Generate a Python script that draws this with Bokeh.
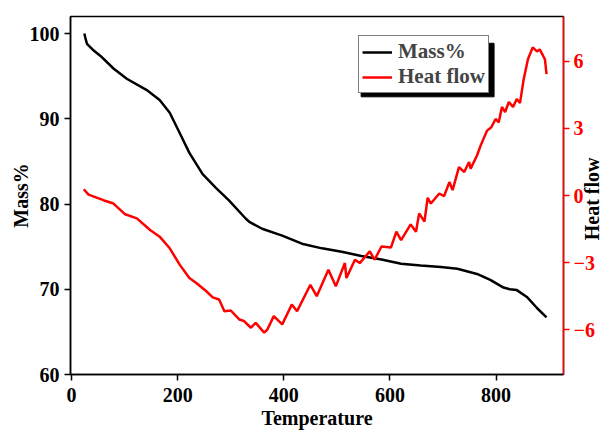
import math
from bokeh.plotting import figure
from bokeh.models import Range1d, LinearAxis, Legend, LegendItem, FixedTicker
from bokeh.embed import file_html
from bokeh.resources import INLINE

# ---- data ----
temp_mass = [24, 26, 29, 40, 54, 79, 104, 141, 166, 185, 204, 222, 247, 272, 297,
             328, 335, 359, 397, 434, 472, 509, 546, 584, 621, 658, 696, 727, 764,
             789, 814, 826, 839, 858, 877, 895]
mass = [100.0, 99.5, 98.8, 98.1, 97.4, 95.9, 94.7, 93.4, 92.2, 90.7, 88.3, 86.0,
        83.5, 81.9, 80.4, 78.3, 77.9, 77.1, 76.3, 75.35, 74.8, 74.4, 73.9, 73.5,
        73.0, 72.8, 72.6, 72.4, 71.8, 71.1, 70.2, 70.0, 69.9, 69.1, 67.8, 66.7]

temp_hf = [23, 32, 60, 79, 101, 123, 148, 166, 185, 204, 222, 235, 254, 266, 278,
           288, 300, 316, 325, 338, 347, 363, 369, 381, 397, 415, 425, 450, 462,
           484, 498, 515, 518, 534, 543, 562, 571, 584, 602, 612, 621, 639, 649,
           655, 665, 671, 677, 693, 702, 712, 718, 730, 740, 749, 752, 764, 771,
           783, 791, 799, 805, 811, 817, 824, 832, 839, 845, 852, 860, 869, 877,
           882, 888, 892, 895]
heat_flow = [0.28, 0.04, -0.21, -0.36, -0.84, -1.02, -1.54, -1.84, -2.36, -3.10,
             -3.69, -3.91, -4.28, -4.55, -4.65, -5.17, -5.14, -5.54, -5.61, -5.91,
             -5.69, -6.13, -5.99, -5.39, -5.76, -4.87, -5.17, -3.99, -4.50, -3.32,
             -4.06, -3.02, -3.69, -2.87, -3.02, -2.50, -2.87, -2.28, -2.32, -1.62,
             -1.99, -1.29, -1.62, -0.80, -1.17, -0.10, -0.36, 0.09, -0.03, 0.60,
             0.24, 1.27, 1.05, 1.50, 1.20, 1.79, 2.24, 2.90, 3.05, 3.42, 3.27,
             3.96, 3.73, 4.18, 3.96, 4.31, 4.13, 5.20, 6.09, 6.62, 6.44, 6.53,
             6.27, 6.09, 5.42]

x_ticks = [0, 200, 400, 600, 800]
mass_ticks = [60, 70, 80, 90, 100]
hf_ticks = [-6, -3, 0, 3, 6]

FONT = "Liberation Serif"

X0, X1 = -2, 927
Y0, Y1 = 60, 102

p = figure(width=616, height=431, output_backend="svg", toolbar_location=None,
           x_range=Range1d(X0, X1), y_range=Range1d(Y0, Y1),
           min_border_left=70, min_border_right=49, min_border_top=16,
           min_border_bottom=54)
p.extra_y_ranges = {"hf": Range1d(-8, 8)}

p.grid.visible = False
p.outline_line_color = "black"
p.outline_line_width = 1.5
p.background_fill_color = "white"
p.border_fill_color = "white"

def style_axis(ax, color):
    ax.axis_line_color = color
    ax.axis_line_width = 1.5
    ax.major_tick_line_color = color
    ax.major_tick_line_width = 1.5
    ax.major_tick_out = 6
    ax.major_tick_in = 0
    ax.minor_tick_line_color = None
    ax.major_label_text_color = color
    ax.major_label_text_font = FONT
    ax.major_label_text_font_style = "bold"
    ax.major_label_text_font_size = "20px"
    ax.axis_label_text_font = FONT
    ax.axis_label_text_font_style = "bold"
    ax.axis_label_text_font_size = "20px"
    ax.axis_label_text_color = "black"

xa = p.xaxis[0]
xa.ticker = FixedTicker(ticks=x_ticks)
xa.axis_label = "Temperature"
style_axis(xa, "black")
xa.major_label_standoff = 7
xa.axis_label_standoff = 2

ya = p.yaxis[0]
ya.ticker = FixedTicker(ticks=mass_ticks)
ya.axis_label = "Mass%"
style_axis(ya, "black")
ya.major_label_standoff = 5
ya.axis_label_standoff = -5

ra = LinearAxis(y_range_name="hf", ticker=FixedTicker(ticks=hf_ticks))
style_axis(ra, "red")
ra.major_label_standoff = 4
p.add_layout(ra, "right")

# right-hand title "Heat flow", reading upwards, drawn as the single label of a
# bare outer axis (its start sits just below the frame's middle)
TITLE_AT = -2.0
ta = LinearAxis(y_range_name="hf", ticker=FixedTicker(ticks=[TITLE_AT]),
                major_label_overrides={TITLE_AT: "Heat flow"})
ta.axis_line_color = None
ta.major_tick_line_color = None
ta.major_tick_out = 0
ta.major_tick_in = 0
ta.minor_tick_line_color = None
ta.major_label_orientation = math.pi / 2
ta.major_label_standoff = -6
ta.major_label_text_color = "black"
ta.major_label_text_font = FONT
ta.major_label_text_font_style = "bold"
ta.major_label_text_font_size = "20px"
p.add_layout(ta, "right")

# frame is 497 x 361 px at (70, 16)
fw, fh, fl, ft = 497, 361, 70, 16
def px_x(px):
    return X0 + (px - fl) * (X1 - X0) / fw
def px_y(py):
    return Y0 + (ft + fh - py) * (Y1 - Y0) / fh

# legend shadow (5 px offset)
p.quad(left=[px_x(363)], right=[px_x(497)], top=[px_y(43)], bottom=[px_y(97)],
       fill_color="black", line_color="black")

r1 = p.line(temp_mass, mass, line_color="black", line_width=2.5)
r2 = p.line(temp_hf, heat_flow, line_color="red", line_width=2.5,
            y_range_name="hf")

legend = Legend(items=[LegendItem(label="Mass%", renderers=[r1]),
                       LegendItem(label="Heat flow", renderers=[r2])],
                location=(288, 281))
legend.label_text_font = FONT
legend.label_text_font_style = "bold"
legend.label_text_font_size = "21px"
legend.label_height = 22
legend.glyph_height = 22
legend.border_line_color = "black"
legend.border_line_width = 1
legend.background_fill_color = "white"
legend.background_fill_alpha = 1
legend.glyph_width = 30
legend.label_standoff = 6
legend.padding = 3
legend.spacing = 0
legend.margin = 0
p.add_layout(legend)

open("out.html", "w").write(file_html(p, INLINE))
